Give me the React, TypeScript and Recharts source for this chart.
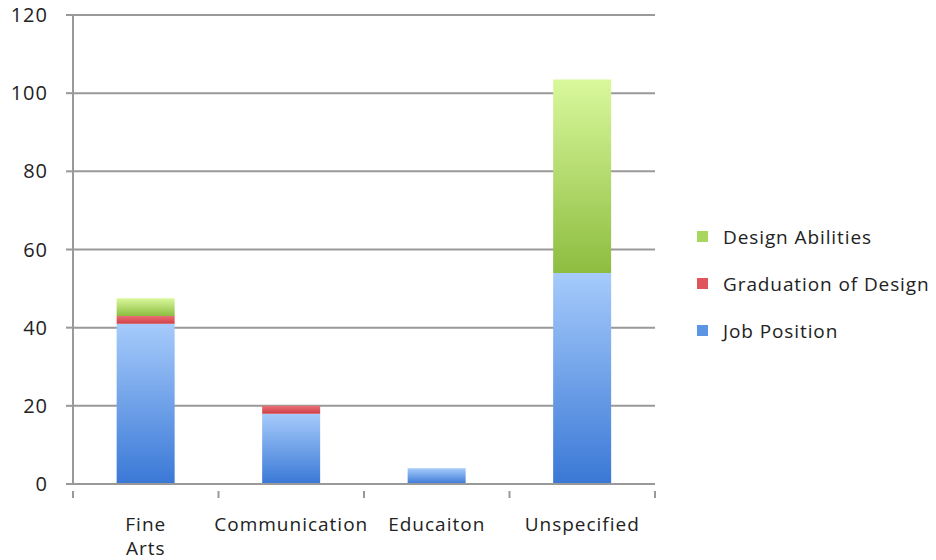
import React from 'react'
import { BarChart, Bar, XAxis, YAxis, CartesianGrid } from 'recharts'

const categories = ['Fine Arts', 'Communication', 'Educaiton', 'Unspecified']
const tickLabelLines = [['Fine', 'Arts'], ['Communication'], ['Educaiton'], ['Unspecified']]
const jobPosition = [41, 18, 4, 54]
const graduationOfDesign = [2, 2, 0, 0]
const designAbilities = [4.5, 0, 0, 49.5]
const yTicks = [0, 20, 40, 60, 80, 100, 120]

const seriesInfo = [
  { key: 'design', name: 'Design Abilities', color: '#a9d65e' },
  { key: 'grad', name: 'Graduation of Design', color: '#e0555c' },
  { key: 'job', name: 'Job Position', color: '#5b95e3' },
]

const data = categories.map((c, i) => ({
  category: c,
  job: jobPosition[i],
  grad: graduationOfDesign[i],
  design: designAbilities[i],
}))

const WIDTH = 936
const HEIGHT = 560
const MARGIN = { top: 15, right: 281, left: 0, bottom: 0 }
const Y_AXIS_W = 73
const X_AXIS_H = 76
const BAND = (WIDTH - MARGIN.left - MARGIN.right - Y_AXIS_W) / categories.length
const FONT = '"Open Sans", sans-serif'
const TEXT = '#222'
const GRID = '#999'

function CategoryTick(props: any) {
  const { x, y, index } = props
  const lines = tickLabelLines[index] || [props.payload.value]
  const isLast = index === categories.length - 1
  return (
    <g>
      <line x1={x - BAND / 2} x2={x - BAND / 2} y1={y - 1} y2={y + 6} stroke={GRID} strokeWidth={2} />
      {isLast && (
        <line x1={x + BAND / 2} x2={x + BAND / 2} y1={y - 1} y2={y + 6} stroke={GRID} strokeWidth={2} />
      )}
      {lines.map((l: string, i: number) => (
        <text
          key={i}
          x={x}
          y={y + 39 + i * 24}
          textAnchor="middle"
          fontSize={19}
          letterSpacing={1}
          fontFamily={FONT}
          fill={TEXT}
        >
          {l}
        </text>
      ))}
    </g>
  )
}

function LegendBox() {
  return (
    <div
      style={{
        position: 'absolute',
        left: 697,
        top: 213,
        fontFamily: FONT,
        fontSize: 19,
        letterSpacing: 0.9,
        color: TEXT,
      }}
    >
      {seriesInfo.map((s) => (
        <div key={s.key} style={{ display: 'flex', alignItems: 'center', height: 47, whiteSpace: 'nowrap' }}>
          <span style={{ width: 11, height: 11, background: s.color, marginRight: 15, display: 'inline-block' }} />
          <span>{s.name}</span>
        </div>
      ))}
    </div>
  )
}

export default function App() {
  return (
    <div style={{ position: 'absolute', left: 0, top: 0, width: WIDTH, height: HEIGHT, background: '#fff' }}>
      <BarChart width={WIDTH} height={HEIGHT} data={data} margin={MARGIN} barCategoryGap="30%">
        <defs>
          <linearGradient id="gJob" x1="0" y1="0" x2="0" y2="1">
            <stop offset="0%" stopColor="#a6cbfb" />
            <stop offset="100%" stopColor="#3a78d6" />
          </linearGradient>
          <linearGradient id="gDesign" x1="0" y1="0" x2="0" y2="1">
            <stop offset="0%" stopColor="#d9f89c" />
            <stop offset="100%" stopColor="#8dbd40" />
          </linearGradient>
          <linearGradient id="gGrad" x1="0" y1="0" x2="0" y2="1">
            <stop offset="0%" stopColor="#ea7075" />
            <stop offset="100%" stopColor="#cf3f47" />
          </linearGradient>
        </defs>
        <CartesianGrid vertical={false} stroke={GRID} strokeWidth={2} />
        <XAxis
          dataKey="category"
          height={X_AXIS_H}
          stroke={GRID}
          strokeWidth={2}
          tickLine={false}
          interval={0}
          tick={<CategoryTick />}
        />
        <YAxis
          width={Y_AXIS_W}
          domain={[0, 120]}
          ticks={yTicks}
          stroke={GRID}
          strokeWidth={2}
          tickSize={7}
          tickMargin={18}
          tick={{ fontSize: 20, fontFamily: FONT, fill: TEXT, letterSpacing: 1 }}
        />
        <Bar dataKey="job" stackId="a" fill="url(#gJob)" isAnimationActive={false} />
        <Bar dataKey="grad" stackId="a" fill="url(#gGrad)" isAnimationActive={false} />
        <Bar dataKey="design" stackId="a" fill="url(#gDesign)" isAnimationActive={false} />
      </BarChart>
      <LegendBox />
    </div>
  )
}
